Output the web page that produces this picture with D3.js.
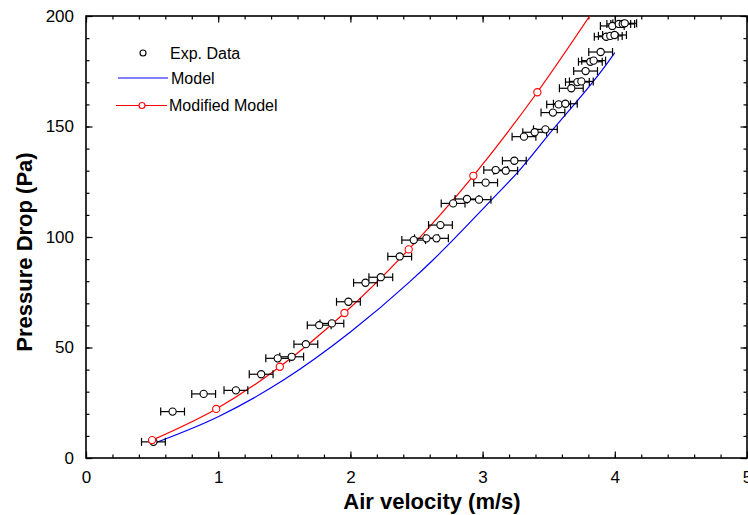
<!DOCTYPE html>
<html>
<head>
<meta charset="utf-8">
<script src="https://cdn.jsdelivr.net/npm/d3@7"></script>
<style>
  body { margin: 0; background: #fff; }
  svg { display: block; font-family: "Liberation Sans", Arial, sans-serif; }
</style>
</head>
<body>
<div class="chart"></div>
<script>
// Experimental data (air velocity m/s, pressure drop Pa)
const expVelocity = [0.51, 0.655, 0.89, 1.134, 1.325, 1.45, 1.556, 1.663, 1.764, 1.86,
  1.985, 2.114, 2.23, 2.373, 2.479, 2.575, 2.651, 2.681, 2.777, 2.882,
  2.973, 3.023, 3.099, 3.175, 3.24, 3.313, 3.394, 3.475, 3.532, 3.575,
  3.626, 3.671, 3.717, 3.747, 3.779, 3.815, 3.84, 3.893, 3.935, 3.966,
  3.998, 3.981, 4.03, 4.06, 4.075];
const expPressure = [7.3, 21.0, 29.0, 30.6, 37.9, 45.1, 45.8, 51.5, 60.1, 60.9,
  70.7, 79.3, 81.8, 91.2, 98.6, 99.4, 99.4, 105.4, 115.2, 117.2,
  116.9, 124.6, 130.3, 130.0, 134.5, 145.4, 147.4, 148.7, 156.3, 160.0,
  160.3, 167.3, 170.1, 170.4, 175.1, 179.3, 179.8, 183.7, 190.6, 191.0,
  191.4, 195.5, 196.4, 196.4, 196.7];
const expError = 0.09;

// Model curve
const modelVelocity = [0.52, 1.0, 1.5, 2.0, 2.45, 2.625, 3.066, 3.27, 3.5, 3.96, 4.0];
const modelPressure = [6.8, 18.7, 35.5, 57.0, 79.8, 89.6, 116.7, 129.6, 146.3, 180.0, 183.4];

// Modified model (markers) and where it leaves the top of the frame
const modVelocity = [0.5, 0.985, 1.466, 1.955, 2.441, 2.93, 3.414, 3.81];
const modPressure = [8.1, 22.2, 41.3, 65.6, 94.4, 127.7, 165.5, 200];
const modMarkers = 7;

const xTicks = [0, 1, 2, 3, 4, 5];
const yTicks = [0, 50, 100, 150, 200];

const W = 748, H = 515;
const mLeft = 86, mRight = 747, mTop = 16, mBottom = 458;

const svg = d3.select(".chart").append("svg")
  .attr("width", W).attr("height", H);

const x = d3.scaleLinear().domain([0, 5]).range([mLeft, mRight]);
const y = d3.scaleLinear().domain([0, 200]).range([mBottom, mTop]);

svg.append("defs").append("clipPath").attr("id", "clip")
  .append("rect").attr("x", mLeft).attr("y", mTop)
  .attr("width", mRight - mLeft).attr("height", mBottom - mTop);

// Axes with inward ticks, mirrored on top and right
const minorX = d3.range(0, 5.01, 0.2);
const minorY = d3.range(0, 201, 10);

function styleAxis(g) {
  g.select(".domain").remove();
  g.selectAll(".tick line").attr("stroke", "#000").attr("stroke-width", 1.2);
}

svg.append("g").attr("transform", `translate(0,${mBottom})`)
  .call(d3.axisBottom(x).tickValues(minorX).tickSizeInner(-3.5).tickSizeOuter(0).tickFormat(""))
  .call(styleAxis);
svg.append("g").attr("transform", `translate(0,${mBottom})`)
  .call(d3.axisBottom(x).tickValues(xTicks).tickSizeInner(-6.5).tickSizeOuter(0).tickPadding(13).tickFormat(d3.format("d")))
  .call(styleAxis)
  .call(g => g.selectAll("text").attr("font-size", 17).attr("fill", "#000").attr("font-family", "Liberation Sans, Arial"));
svg.append("g").attr("transform", `translate(0,${mTop})`)
  .call(d3.axisTop(x).tickValues(minorX).tickSizeInner(-3.5).tickSizeOuter(0).tickFormat(""))
  .call(styleAxis);
svg.append("g").attr("transform", `translate(0,${mTop})`)
  .call(d3.axisTop(x).tickValues(xTicks).tickSizeInner(-6.5).tickSizeOuter(0).tickFormat(""))
  .call(styleAxis);

svg.append("g").attr("transform", `translate(${mLeft},0)`)
  .call(d3.axisLeft(y).tickValues(minorY).tickSizeInner(-3.5).tickSizeOuter(0).tickFormat(""))
  .call(styleAxis);
svg.append("g").attr("transform", `translate(${mLeft},0)`)
  .call(d3.axisLeft(y).tickValues(yTicks).tickSizeInner(-6.5).tickSizeOuter(0).tickPadding(12).tickFormat(d3.format("d")))
  .call(styleAxis)
  .call(g => g.selectAll("text").attr("font-size", 17).attr("fill", "#000").attr("font-family", "Liberation Sans, Arial"));
svg.append("g").attr("transform", `translate(${mRight},0)`)
  .call(d3.axisRight(y).tickValues(minorY).tickSizeInner(-3.5).tickSizeOuter(0).tickFormat(""))
  .call(styleAxis);
svg.append("g").attr("transform", `translate(${mRight},0)`)
  .call(d3.axisRight(y).tickValues(yTicks).tickSizeInner(-6.5).tickSizeOuter(0).tickFormat(""))
  .call(styleAxis);

// Frame
svg.append("rect")
  .attr("x", mLeft).attr("y", mTop)
  .attr("width", mRight - mLeft).attr("height", mBottom - mTop)
  .attr("fill", "none").attr("stroke", "#000").attr("stroke-width", 1.6);

const plot = svg.append("g").attr("clip-path", "url(#clip)");

// Model line
const line = d3.line().curve(d3.curveMonotoneX).x(d => x(d[0])).y(d => y(d[1]));
plot.append("path")
  .datum(modelVelocity.map((v, i) => [v, modelPressure[i]]))
  .attr("fill", "none").attr("stroke", "#0000ff").attr("stroke-width", 1.2)
  .attr("d", line);

// Modified model line
plot.append("path")
  .datum(modVelocity.map((v, i) => [v, modPressure[i]]))
  .attr("fill", "none").attr("stroke", "#ff0000").attr("stroke-width", 1.2)
  .attr("d", line);

// Experimental data with horizontal error bars
const exp = expVelocity.map((v, i) => ({ v, p: expPressure[i] }));
const bars = plot.append("g").attr("stroke", "#000").attr("stroke-width", 1.2);
exp.forEach(d => {
  const yy = y(d.p), x0 = x(d.v - expError), x1 = x(d.v + expError);
  bars.append("line").attr("x1", x0).attr("x2", x1).attr("y1", yy).attr("y2", yy);
  bars.append("line").attr("x1", x0).attr("x2", x0).attr("y1", yy - 4).attr("y2", yy + 4);
  bars.append("line").attr("x1", x1).attr("x2", x1).attr("y1", yy - 4).attr("y2", yy + 4);
});
plot.append("g").selectAll("circle").data(exp).join("circle")
  .attr("cx", d => x(d.v)).attr("cy", d => y(d.p)).attr("r", 3.6)
  .attr("fill", "#fff").attr("stroke", "#000").attr("stroke-width", 1.1);

// Modified model markers
plot.append("g").selectAll("circle")
  .data(modVelocity.slice(0, modMarkers).map((v, i) => [v, modPressure[i]]))
  .join("circle")
  .attr("cx", d => x(d[0])).attr("cy", d => y(d[1])).attr("r", 3.6)
  .attr("fill", "#fff").attr("stroke", "#ff0000").attr("stroke-width", 1.1);

// Legend
const lg = svg.append("g").attr("font-size", 16).attr("fill", "#000");
lg.append("circle").attr("cx", 143).attr("cy", 53).attr("r", 3)
  .attr("fill", "#fff").attr("stroke", "#000").attr("stroke-width", 1.1);
lg.append("text").attr("x", 170).attr("y", 59).text("Exp. Data");
lg.append("line").attr("x1", 118).attr("x2", 168).attr("y1", 78).attr("y2", 78)
  .attr("stroke", "#0000ff").attr("stroke-width", 1.2);
lg.append("text").attr("x", 171).attr("y", 84).text("Model");
lg.append("line").attr("x1", 116).attr("x2", 167).attr("y1", 105.5).attr("y2", 105.5)
  .attr("stroke", "#ff0000").attr("stroke-width", 1.2);
lg.append("circle").attr("cx", 142).attr("cy", 105.5).attr("r", 3)
  .attr("fill", "#fff").attr("stroke", "#ff0000").attr("stroke-width", 1.1);
lg.append("text").attr("x", 169).attr("y", 111).text("Modified Model");

// Axis titles
svg.append("text")
  .attr("x", 432).attr("y", 509)
  .attr("text-anchor", "middle")
  .attr("font-size", 22).attr("font-weight", "bold")
  .text("Air velocity (m/s)");
svg.append("text")
  .attr("transform", "translate(32,252) rotate(-90)")
  .attr("text-anchor", "middle")
  .attr("font-size", 22).attr("font-weight", "bold")
  .text("Pressure Drop (Pa)");
</script>
</body>
</html>
